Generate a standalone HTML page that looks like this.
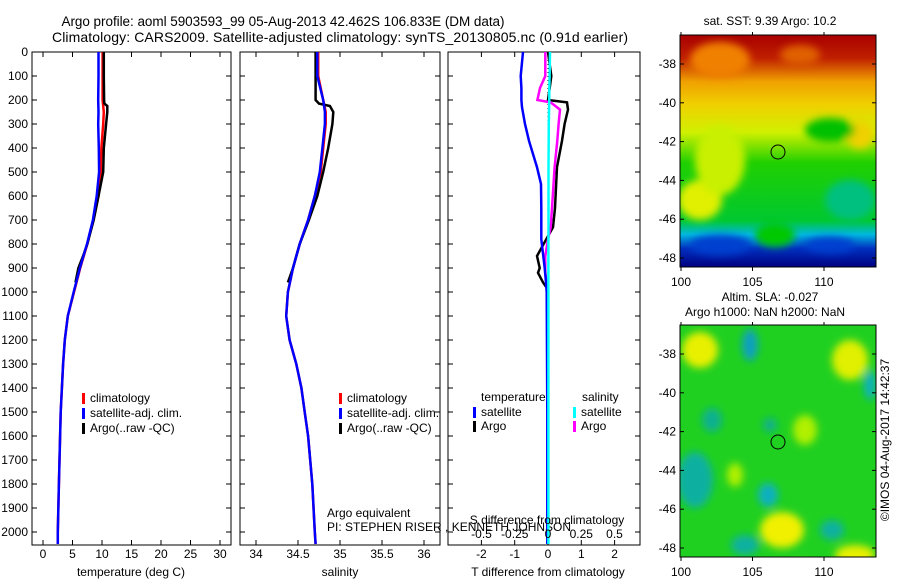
<!DOCTYPE html>
<html><head><meta charset="utf-8">
<style>
html,body{margin:0;padding:0;background:#fff;}
svg{display:block;font-family:"Liberation Sans",sans-serif;}
text{font-size:12px;fill:#000;}
</style></head>
<body>
<svg id="chart" width="900" height="580" viewBox="0 0 900 580">
<defs>
<linearGradient id="sstGrad" x1="0" y1="0" x2="0" y2="1">
<stop offset="0" stop-color="#a80000"/><stop offset="0.1" stop-color="#c02000"/>
<stop offset="0.2" stop-color="#f0a000"/><stop offset="0.3" stop-color="#f0d000"/>
<stop offset="0.42" stop-color="#d0f000"/><stop offset="0.55" stop-color="#20d000"/>
<stop offset="0.8" stop-color="#00c830"/><stop offset="0.86" stop-color="#00b8e0"/>
<stop offset="0.92" stop-color="#0030c0"/><stop offset="1" stop-color="#000080"/>
</linearGradient>
<filter id="blur4"><feGaussianBlur stdDeviation="4"/></filter>
<clipPath id="clipTop"><rect x="680" y="35" width="196" height="232"/></clipPath>
<clipPath id="clipBot"><rect x="680" y="325" width="196" height="232"/></clipPath>
</defs>

<text x="283" y="26" text-anchor="middle" textLength="443" style="font-size:13.5px">Argo profile: aoml 5903593_99 05-Aug-2013 42.462S 106.833E (DM data)</text>
<text x="340" y="42" text-anchor="middle" textLength="576" style="font-size:14px">Climatology: CARS2009. Satellite-adjusted climatology: synTS_20130805.nc (0.91d earlier)</text>

<g id="p1"></g>
<g id="p2"></g>
<g id="p3"></g>

<!-- SST map -->
<g clip-path="url(#clipTop)">
<rect x="680" y="35" width="196" height="232" fill="url(#sstGrad)"/>
<g filter="url(#blur4)">
<ellipse cx="720" cy="60" rx="30" ry="18" fill="#f08000"/>
<ellipse cx="800" cy="55" rx="20" ry="10" fill="#e06000"/>
<ellipse cx="700" cy="200" rx="22" ry="20" fill="#e0f000"/>
<ellipse cx="720" cy="160" rx="25" ry="35" fill="#c8f000"/>
<ellipse cx="860" cy="135" rx="14" ry="14" fill="#f0d000"/>
<ellipse cx="830" cy="130" rx="25" ry="12" fill="#00c000"/>
<ellipse cx="850" cy="200" rx="25" ry="20" fill="#00c080"/>
<ellipse cx="775" cy="235" rx="20" ry="12" fill="#00c800"/>
<ellipse cx="720" cy="245" rx="30" ry="10" fill="#0040d0"/>
<ellipse cx="830" cy="245" rx="25" ry="8" fill="#0040d0"/>
</g>
</g>
<rect x="680" y="35" width="196" height="232" fill="none" stroke="#000" stroke-width="1"/>
<circle cx="778" cy="152" r="7" fill="none" stroke="#000" stroke-width="1"/>
<text x="770" y="25" text-anchor="middle">sat. SST: 9.39 Argo: 10.2</text>

<!-- SLA map -->
<g clip-path="url(#clipBot)">
<rect x="680" y="325" width="196" height="232" fill="#20d020"/>
<g filter="url(#blur4)">
<ellipse cx="700" cy="350" rx="18" ry="18" fill="#e8f000"/>
<ellipse cx="750" cy="345" rx="8" ry="16" fill="#10a0c0"/>
<ellipse cx="850" cy="360" rx="18" ry="20" fill="#e0f000"/>
<ellipse cx="870" cy="385" rx="6" ry="15" fill="#10b0c0"/>
<ellipse cx="712" cy="420" rx="10" ry="12" fill="#10b090"/>
<ellipse cx="770" cy="425" rx="7" ry="7" fill="#10b090"/>
<ellipse cx="805" cy="430" rx="12" ry="15" fill="#b0f000"/>
<ellipse cx="695" cy="480" rx="18" ry="28" fill="#10b0a0"/>
<ellipse cx="735" cy="475" rx="8" ry="12" fill="#b0f000"/>
<ellipse cx="768" cy="495" rx="10" ry="12" fill="#10b0c0"/>
<ellipse cx="782" cy="530" rx="22" ry="18" fill="#f0f000"/>
<ellipse cx="832" cy="530" rx="12" ry="10" fill="#10b0a0"/>
<ellipse cx="855" cy="555" rx="20" ry="10" fill="#e8f000"/>
<ellipse cx="745" cy="545" rx="14" ry="10" fill="#10b0a0"/>
<ellipse cx="800" cy="570" rx="18" ry="8" fill="#e0f000"/>
<ellipse cx="833" cy="580" rx="10" ry="8" fill="#10a0c0"/>
</g>
</g>
<rect x="680" y="325" width="196" height="232" fill="none" stroke="#000" stroke-width="1"/>
<circle cx="778" cy="442" r="7" fill="none" stroke="#000" stroke-width="1"/>
<text x="770" y="301" text-anchor="middle">Altim. SLA: -0.027</text>
<text x="765" y="316" text-anchor="middle">Argo h1000: NaN h2000: NaN</text>
<text transform="translate(889,440) rotate(-90)" text-anchor="middle">©IMOS 04-Aug-2017 14:42:37</text>
<g id="maps"></g>
</svg>
<script>
const depthTicks=[0,100,200,300,400,500,600,700,800,900,1000,1100,1200,1300,1400,1500,1600,1700,1800,1900,2000];
const tempTicks=[0,5,10,15,20,25,30];
const salTicks=[34,34.5,35,35.5,36];
const salTickLabels=["34","34.5","35","35.5","36"];
const tdTicks=[-2,-1,0,1,2];
const sdTicks=[-0.5,-0.25,0,0.25,0.5];
const sdTickLabels=["-0.5","-0.25","0","0.25","0.5"];
const latTicks=[-38,-40,-42,-44,-46,-48];
const lonTicks=[100,105,110];

const climDepth=[0,100,200,250,300,400,500,600,700,800,900,1000,1100,1200,1300,1400,1500,1600,1800,2000,2050];
const tempClim=[10.1,10.1,10.1,10.3,10.2,9.9,9.8,9.4,8.5,7.5,6.3,5.25,4.2,3.7,3.4,3.2,3.0,2.9,2.7,2.5,2.5];
const tempSat=[9.4,9.4,9.35,9.4,9.35,9.45,9.5,9.1,8.45,7.45,6.25,5.2,4.2,3.7,3.4,3.2,3.0,2.9,2.7,2.5,2.5];
const salClim=[34.74,34.74,34.80,34.83,34.83,34.80,34.77,34.70,34.62,34.52,34.44,34.38,34.36,34.40,34.48,34.54,34.58,34.62,34.67,34.70,34.71];
const salSat=[34.73,34.73,34.80,34.82,34.82,34.79,34.76,34.70,34.62,34.52,34.44,34.38,34.36,34.40,34.48,34.54,34.58,34.62,34.67,34.70,34.71];
const argoDepth=[0,100,200,215,225,250,300,400,500,600,700,800,850,900,960];
const tempArgo=[10.3,10.3,10.35,10.4,10.9,10.9,10.7,10.3,10.2,9.4,8.6,7.5,6.8,6.0,5.5];
const salArgo=[34.71,34.71,34.71,34.75,34.88,34.92,34.91,34.86,34.80,34.73,34.63,34.52,34.48,34.44,34.38];

const diffDepth=[0,100,150,200,230,300,370,480,550,650,730,780,840,900,960,1000,1500,2050];
const tdSat=[-0.75,-0.82,-0.8,-0.8,-0.78,-0.69,-0.57,-0.33,-0.21,-0.2,-0.2,-0.2,-0.15,-0.1,-0.06,-0.04,-0.02,-0.02];
const sdSat=[0.015,0.012,0.01,0.01,0.008,0.006,0.005,0.004,0.004,0.004,0.004,0.003,0.003,0.003,0.003,0.003,0.003,0.003];
const argoDiffDepth=[0,100,150,200,210,240,300,370,480,650,730,780,850,900,920,960,980];
const tdArgo=[0.0,0.1,0.05,0.0,0.57,0.6,0.5,0.42,0.27,0.21,0.15,-0.05,-0.33,-0.25,-0.3,-0.15,-0.05];
const sdArgo=[-0.02,-0.02,-0.06,-0.08,0.02,0.09,0.08,0.07,0.05,0.03,0.02,0.0,-0.02,-0.02,-0.02,-0.01,0.0];

const NS="http://www.w3.org/2000/svg";
const yD=d=>52+d*0.24;
const xT=t=>43+t*5.9;
const xS=s=>256+(s-34)*84;
const xTd=t=>548+t*33.3;
const xSd=s=>548+s*133;
function el(tag,attrs,parent,txt){const e=document.createElementNS(NS,tag);for(const k in attrs)e.setAttribute(k,attrs[k]);if(txt!==undefined)e.textContent=txt;parent.appendChild(e);return e;}
function line(depths,vals,xf,color,parent,name,w){
  const pts=depths.map((d,i)=>xf(vals[i]).toFixed(1)+","+yD(d).toFixed(1)).join(" ");
  const p=el("polyline",{points:pts,fill:"none",stroke:color,"stroke-width":w||2.5},parent);
  
  
}
function frame(g,x0,x1,name,labels){
  const r=el("rect",{x:x0,y:52,width:x1-x0,height:493,fill:"none",stroke:"#000","stroke-width":1},g);
  
  
  depthTicks.forEach(d=>{
    el("line",{x1:x0,x2:x0+5,y1:yD(d),y2:yD(d),stroke:"#000"},g);
    el("line",{x1:x1-5,x2:x1,y1:yD(d),y2:yD(d),stroke:"#000"},g);
    if(labels){const t=el("text",{x:x0-4,y:yD(d)+4,"text-anchor":"end"},g,String(d));
      
      }
  });
}
function xticks(g,ticks,labs,xf,y,len,top){
  ticks.forEach((v,i)=>{
    el("line",{x1:xf(v),x2:xf(v),y1:545,y2:545-len,stroke:"#000"},g);
    if(top) el("line",{x1:xf(v),x2:xf(v),y1:52,y2:52+len,stroke:"#000"},g);
    const t=el("text",{x:xf(v),y:y,"text-anchor":"middle"},g,labs[i]);
    
    
  });
}
function legendItem(g,x,y,color,label){
  el("rect",{x:x,y:y-9,width:3,height:11,fill:color},g);
  const t=el("text",{x:x+8,y:y},g,label);
  
  
}
// panel 1
const p1=document.getElementById("p1");
frame(p1,32,231,"temperature-axes",true);
xticks(p1,tempTicks,tempTicks.map(String),xT,558,5,true);
let t=el("text",{x:131,y:576,"text-anchor":"middle"},p1,"temperature (deg C)");

line(climDepth,tempClim,xT,"#ff0000",p1,"temp-climatology-line");
line(argoDepth,tempArgo,xT,"#000000",p1,"temp-argo-line");
line(climDepth,tempSat,xT,"#0000ff",p1,"temp-satellite-line");
legendItem(p1,82,402,"#ff0000","climatology");
legendItem(p1,82,417,"#0000ff","satellite-adj. clim.");
legendItem(p1,82,432,"#000000","Argo(..raw -QC)");
// panel 2
const p2=document.getElementById("p2");
frame(p2,240,440,"salinity-axes",false);
xticks(p2,salTicks,salTickLabels,xS,558,5,true);
t=el("text",{x:340,y:576,"text-anchor":"middle"},p2,"salinity");

line(climDepth,salClim,xS,"#ff0000",p2,"sal-climatology-line");
line(argoDepth,salArgo,xS,"#000000",p2,"sal-argo-line");
line(climDepth,salSat,xS,"#0000ff",p2,"sal-satellite-line");
legendItem(p2,339,402,"#ff0000","climatology");
legendItem(p2,339,417,"#0000ff","satellite-adj. clim.");
legendItem(p2,339,432,"#000000","Argo(..raw -QC)");
// panel 3
const p3=document.getElementById("p3");
frame(p3,448,640,"difference-axes",false);
xticks(p3,tdTicks,tdTicks.map(String),xTd,558,5,true);
t=el("text",{x:548,y:576,"text-anchor":"middle"},p3,"T difference from climatology");

el("line",{x1:548,x2:548,y1:52,y2:545,stroke:"#000","stroke-dasharray":"1,3"},p3);
line(argoDiffDepth,tdArgo,xTd,"#000000",p3,"tdiff-argo-line");
line(argoDiffDepth,sdArgo,xSd,"#ff00ff",p3,"sdiff-argo-line");
line(diffDepth,tdSat,xTd,"#0000ff",p3,"tdiff-satellite-line");
line(diffDepth,sdSat,xSd,"#00ffff",p3,"sdiff-satellite-line");
t=el("text",{x:481,y:401},p3,"temperature");
t=el("text",{x:582,y:401},p3,"salinity");
legendItem(p3,473,416,"#0000ff","satellite");
legendItem(p3,473,430,"#000000","Argo");
legendItem(p3,573,416,"#00ffff","satellite");
legendItem(p3,573,430,"#ff00ff","Argo");
t=el("text",{x:547,y:524,"text-anchor":"middle"},p3,"S difference from climatology");
sdTicks.forEach((v,i)=>{const tt=el("text",{x:xSd(v),y:538,"text-anchor":"middle"},p3,sdTickLabels[i]);
  });
t=el("text",{x:327,y:517},p2,"Argo equivalent");
t=el("text",{x:327,y:531},p2,"PI: STEPHEN RISER , KENNETH JOHNSON");
// map axes
const mg=document.getElementById("maps");
[[35,64],[325,354]].forEach(([top,y38])=>{
  latTicks.forEach(l=>{const y=y38+(-38-l)*19.4;
    el("line",{x1:680,x2:684,y1:y,y2:y,stroke:"#000"},mg);
    el("line",{x1:872,x2:876,y1:y,y2:y,stroke:"#000"},mg);
    const tt=el("text",{x:676,y:y+4,"text-anchor":"end"},mg,String(l));
    });
  lonTicks.forEach(l=>{const x=681+(l-100)*14.3;
    el("line",{x1:x,x2:x,y1:top-3,y2:top,stroke:"#000"},mg);
    el("line",{x1:x,x2:x,y1:top+232,y2:top+236,stroke:"#000"},mg);
    const tt=el("text",{x:x,y:top+251,"text-anchor":"middle"},mg,String(l));
    });
});
</script>
</body></html>
